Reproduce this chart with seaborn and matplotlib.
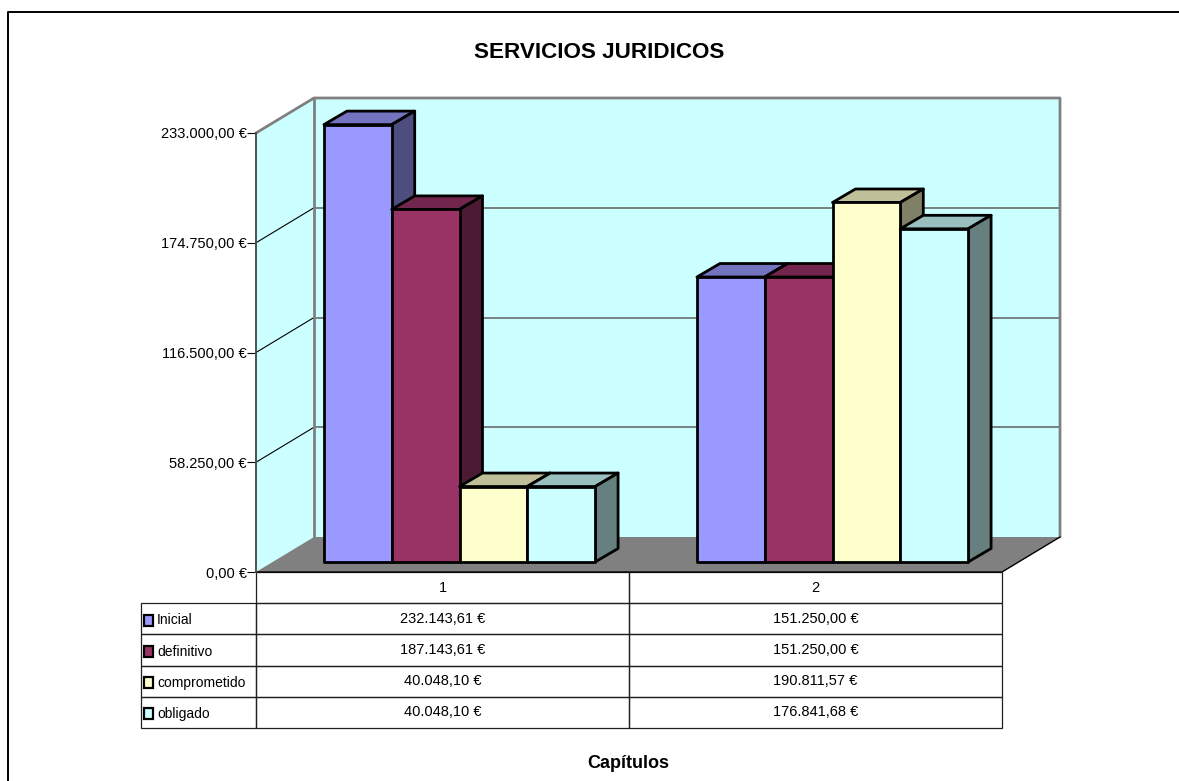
import matplotlib
matplotlib.use("Agg")
import matplotlib.pyplot as plt
import numpy as np
import pandas as pd
import seaborn as sns
from matplotlib.lines import Line2D
from matplotlib.patches import Polygon, Rectangle
from matplotlib.transforms import Affine2D, IdentityTransform

capitulos = ["1", "2"]
series = ["Inicial", "definitivo", "comprometido", "obligado"]
inicial = [232143.61, 151250.00]
definitivo = [187143.61, 151250.00]
comprometido = [40048.10, 190811.57]
obligado = [40048.10, 176841.68]
colores = ["#9999FF", "#993366", "#FFFFCC", "#CCFFFF"]
yticks = [0, 58250, 116500, 174750, 233000]

W, H = 1179, 781
WALL = "#CCFFFF"
GRIS = "#808080"


def euros(v):
    s = f"{v:,.2f}".replace(",", "X").replace(".", ",").replace("X", ".")
    return s + " €"


def oscurecer(color, f):
    r, g, b = matplotlib.colors.to_rgb(color)
    return (r * f, g * f, b * f)


sns.set_theme(style="white")
plt.rcParams["font.family"] = ["Liberation Sans", "DejaVu Sans"]

df = pd.DataFrame({
    "capitulo": capitulos * 4,
    "serie": np.repeat(series, 2),
    "valor": inicial + definitivo + comprometido + obligado,
})

fig = plt.figure(figsize=(W / 100, H / 100), dpi=100)
ax = fig.add_axes([256 / W, 1 - 572 / H, 746 / W, 439 / H])
ax.patch.set_visible(False)

sns.barplot(data=df, x="capitulo", y="valor", hue="serie", hue_order=series,
            palette=colores, saturation=1, width=0.727, gap=0, legend=False,
            edgecolor="black", linewidth=2, ax=ax)
ax.set_xlim(-0.5, 1.5)
ax.set_ylim(0, 233000)
ax.set_xlabel("")
ax.set_ylabel("")
for s in ["top", "right", "bottom"]:
    ax.spines[s].set_visible(False)
ax.spines["left"].set_color("#505050")
ax.spines["left"].set_linewidth(1.4)
ax.set_yticks(yticks)
ax.set_yticklabels([euros(v) for v in yticks], fontsize=10.5, color="black")
ax.tick_params(axis="y", left=True, length=6.5, width=0.8, color="black", pad=0)
ax.set_xticks([])

# profundidad en pixeles: pared del fondo y cara frontal de las barras
fondo = (58, 35)
frente = (17, 10)
prof = (23, 13.5)
pix = IdentityTransform()
trans_fondo = ax.transData + Affine2D().translate(*fondo)


def p(x, y):
    return ax.transData.transform((x, y))


x0, x1 = ax.get_xlim()
ymax = yticks[-1]
a0, a1 = p(x0, 0), p(x1, 0)
b0, b1 = p(x0, ymax), p(x1, ymax)
d = np.array(fondo)

ax.add_patch(Polygon([a0, b0, b0 + d, a0 + d], transform=pix, fc=WALL, ec="none", zorder=0.1, clip_on=False))
ax.add_patch(Polygon([a0 + d, b0 + d, b1 + d, a1 + d], transform=pix, fc=WALL, ec="none", zorder=0.1, clip_on=False))
ax.add_patch(Polygon([a0, a1, a1 + d, a0 + d], transform=pix, fc=GRIS, ec="none", zorder=0.2, clip_on=False))

# rejilla
for v in yticks[1:-1]:
    q = p(x0, v)
    ax.add_line(Line2D([q[0], q[0] + d[0]], [q[1], q[1] + d[1]], transform=pix, color="black", lw=0.8, zorder=0.3, clip_on=False))
    ax.plot([x0, x1], [v, v], transform=trans_fondo, color="#606060", lw=1.1, zorder=0.3, clip_on=False)

# bordes de las paredes
ax.add_line(Line2D([b0[0], b0[0] + d[0], b1[0] + d[0], a1[0] + d[0]],
                   [b0[1], b0[1] + d[1], b1[1] + d[1], a1[1] + d[1]],
                   transform=pix, color=GRIS, lw=2, zorder=0.4, clip_on=False))
ax.add_line(Line2D([a0[0] + d[0], b0[0] + d[0]], [a0[1] + d[1], b0[1] + d[1]],
                   transform=pix, color=GRIS, lw=2, zorder=0.4, clip_on=False))
ax.add_line(Line2D([a0[0], a1[0], a1[0] + d[0]], [a0[1], a1[1], a1[1] + d[1]],
                   transform=pix, color="black", lw=1, zorder=0.4, clip_on=False))

# caras 3D de cada barra, de izquierda a derecha
fig.canvas.draw()
barras = sorted([b for b in ax.patches if isinstance(b, Rectangle) and b.get_height() > 0], key=lambda b: b.get_x())
for i, b in enumerate(barras):
    c = b.get_facecolor()
    z = 1 + i
    bx0, bx1 = b.get_x(), b.get_x() + b.get_width()
    h = b.get_height()
    f = np.array(frente)
    e = np.array(prof)
    tl, tr, br = p(bx0, h) + f, p(bx1, h) + f, p(bx1, 0) + f
    ax.add_patch(Polygon([tl, tr, tr + e, tl + e], transform=pix, fc=oscurecer(c, 0.75), ec="black", lw=2, joinstyle="round", zorder=z, clip_on=False))
    ax.add_patch(Polygon([tr, br, br + e, tr + e], transform=pix, fc=oscurecer(c, 0.5), ec="black", lw=2, joinstyle="round", zorder=z, clip_on=False))
    b.set_transform(ax.transData + Affine2D().translate(*frente))
    b.set_zorder(z + 0.5)
    b.set_clip_on(False)
    b.set_joinstyle("round")

# tabla de datos; las etiquetas de fila van aparte, junto a su clave de color
filas = [["", euros(a), euros(c)] for a, c in zip(*[list(v) for v in zip(inicial, definitivo, comprometido, obligado)])]
tabla = ax.table(cellText=filas, colLabels=["", *capitulos],
                 colWidths=[115 / 861, 373 / 861, 373 / 861],
                 cellLoc="center", edges="closed",
                 bbox=[-115 / 746, -156 / 439, 861 / 746, 156 / 439])
tabla.auto_set_font_size(False)
tabla.set_fontsize(10.5)
for (r, c), cell in tabla.get_celld().items():
    cell.set_linewidth(0.9)
    cell.set_edgecolor("#202020")
    cell.set_facecolor("none")
    cell.get_text().set_color("black")
tabla[(0, 0)].visible_edges = "open"

for i, (nombre, color) in enumerate(zip(series, colores)):
    y = 615 + 31.1 * i
    fig.add_artist(Rectangle((144 / W, 1 - (y + 10.5) / H), 9 / W, 10.5 / H, transform=fig.transFigure,
                             fc=color, ec="black", lw=1.6))
    fig.text(157 / W, 1 - (y + 5.5) / H, nombre, ha="left", va="center", fontsize=10, color="black")

fig.text(599 / W, 1 - 52 / H, "SERVICIOS JURIDICOS", ha="center", va="center", fontsize=16.2, fontweight="bold", color="black")
fig.text(628 / W, 1 - 764 / H, "Capítulos", ha="center", va="center", fontsize=13, fontweight="bold", color="black")

# marco del grafico
fig.add_artist(Line2D([8 / W, 8 / W, 1], [0, 1 - 11.5 / H, 1 - 11.5 / H], transform=fig.transFigure, color="black", lw=1.4))

fig.savefig("out.png", dpi=100)
